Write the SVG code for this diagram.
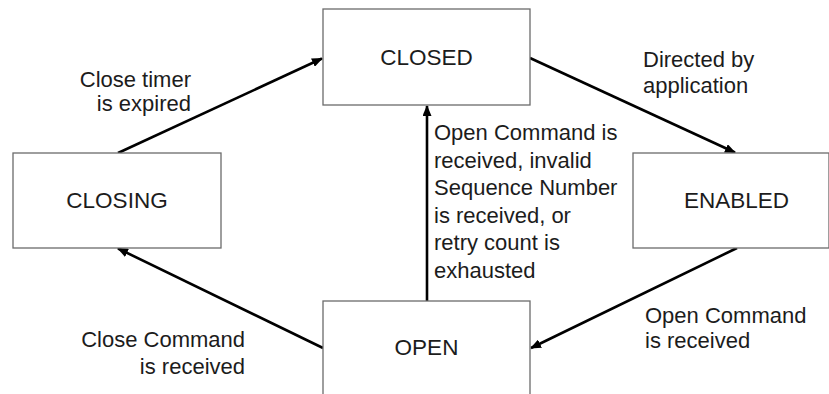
<svg xmlns="http://www.w3.org/2000/svg" width="829" height="394" viewBox="0 0 829 394">
<defs>
<style>
.box{fill:#fff;stroke:#6b6b6b;stroke-width:1.3}
.node{font-family:"Liberation Sans",Arial,sans-serif;font-size:22.5px;fill:#1c1c1c;text-anchor:middle}
.lbl{font-family:"Liberation Sans",Arial,sans-serif;font-size:22px;fill:#1c1c1c}
.edge{stroke:#000;stroke-width:2.6;fill:none;marker-end:url(#ah)}
</style>
<marker id="ah" markerUnits="userSpaceOnUse" markerWidth="11" markerHeight="9" viewBox="0 0 11 9" refX="10" refY="4.5" orient="auto">
<path d="M0,0 L11,4.5 L0,9 Z" fill="#000"/>
</marker>
</defs>
<rect width="829" height="394" fill="#fff"/>
<g id="connectors">
<line class="edge" x1="118" y1="153" x2="322" y2="58.5"/>
<line class="edge" x1="530" y1="58" x2="735" y2="152.5"/>
<line class="edge" x1="737" y1="248" x2="531" y2="348"/>
<line class="edge" x1="323" y1="348" x2="118" y2="248.5"/>
<line class="edge" x1="427" y1="301" x2="427" y2="106"/>
</g>
<g id="closed">
<rect class="box" x="323" y="9" width="207" height="96"/>
<text class="node" x="426.5" y="65">CLOSED</text>
</g>
<g id="closing">
<rect class="box" x="13" y="153" width="208" height="95"/>
<text class="node" x="117" y="208">CLOSING</text>
</g>
<g id="enabled">
<rect class="box" x="633" y="153" width="196" height="95"/>
<text class="node" x="736.5" y="208">ENABLED</text>
</g>
<g id="open">
<rect class="box" x="323" y="301" width="207" height="100"/>
<text class="node" x="426.5" y="355">OPEN</text>
</g>
<g id="labels">
<text class="lbl" text-anchor="end" x="191" y="86.5">Close timer</text>
<text class="lbl" text-anchor="end" x="191" y="110.5">is expired</text>
<text class="lbl" x="643" y="67">Directed by</text>
<text class="lbl" x="643" y="93">application</text>
<text class="lbl" x="434" y="140">Open Command is</text>
<text class="lbl" x="434" y="167.5">received, invalid</text>
<text class="lbl" x="434" y="195">Sequence Number</text>
<text class="lbl" x="434" y="222.5">is received, or</text>
<text class="lbl" x="434" y="250">retry count is</text>
<text class="lbl" x="434" y="278">exhausted</text>
<text class="lbl" text-anchor="end" x="245" y="347">Close Command</text>
<text class="lbl" text-anchor="end" x="245" y="373.5">is received</text>
<text class="lbl" x="645" y="322.5">Open Command</text>
<text class="lbl" x="645" y="348">is received</text>
</g>
</svg>
